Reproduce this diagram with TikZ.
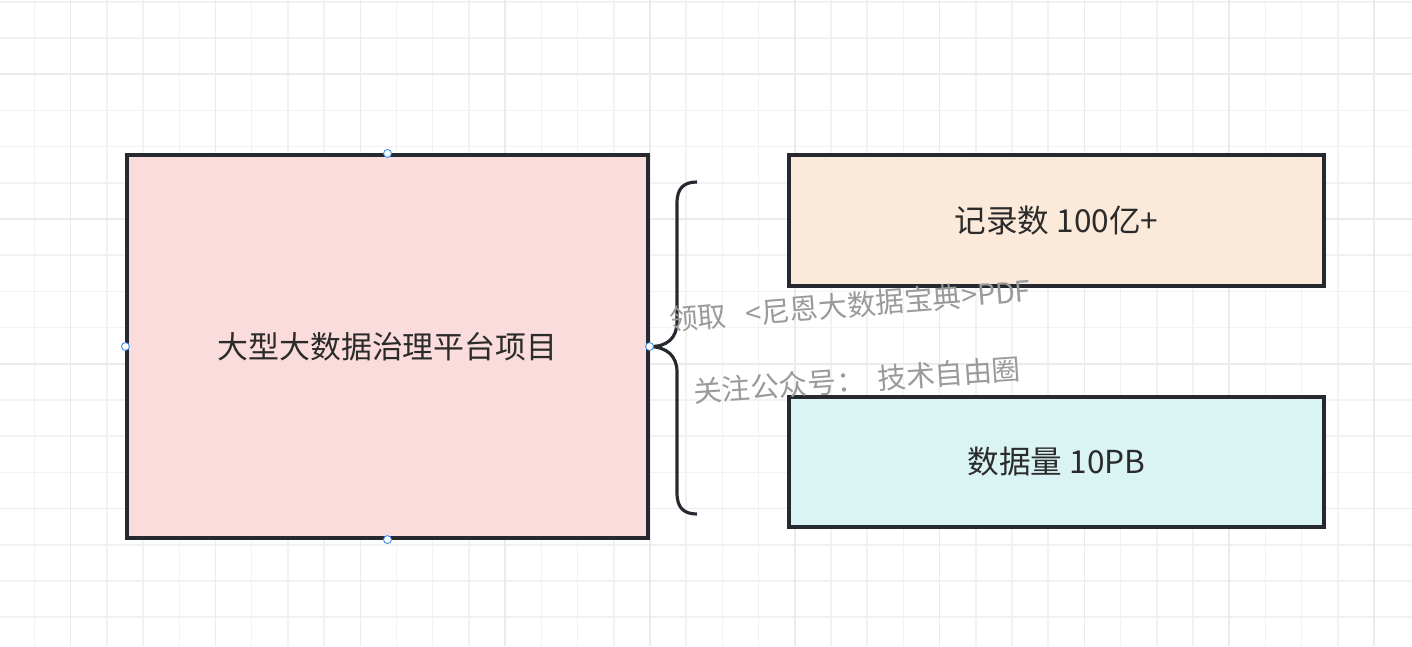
\documentclass[tikz,border=0pt]{standalone}
\usepackage{fontspec}
\setmainfont{Noto Sans CJK SC}
\usepackage{tikz}
\usetikzlibrary{positioning}

\definecolor{edgedark}{HTML}{262A30}
\definecolor{pinkfill}{HTML}{F9DCDB}
\definecolor{peachfill}{HTML}{FBE9DA}
\definecolor{cyanfill}{HTML}{DAF3F3}
\definecolor{gridminor}{HTML}{F2F2F2}
\definecolor{gridmajor}{HTML}{EBEBEB}
\definecolor{handleblue}{HTML}{3B8CF2}
\definecolor{textdark}{HTML}{2B2B2B}
\definecolor{markgray}{HTML}{9A9A9A}

\begin{document}
\begin{tikzpicture}[
    x=0.02cm, y=-0.02cm,
    block/.style={rectangle, draw=edgedark, line width=1.8pt, align=center, text=textdark, font=\fontsize{18}{21}\selectfont, inner sep=0pt},
    handle/.style={circle, draw=handleblue, fill=white, line width=0.5pt, minimum size=4.5pt, inner sep=0pt},
    watermark/.style={text=markgray, font=\fontsize{16.3}{19}\selectfont, inner sep=0pt}
]

\useasboundingbox (0,0) rectangle (1412,646);
\fill[white] (0,0) rectangle (1412,646);

% background grid
\foreach \gx in {0,...,38} {
  \pgfmathsetmacro\xx{-1.7+36.2*\gx}
  \draw[gridminor, line width=0.9pt] (\xx,0) -- (\xx,646);
}
\foreach \gy in {0,...,17} {
  \pgfmathsetmacro\yy{1.8+36.2*\gy}
  \draw[gridminor, line width=0.9pt] (0,\yy) -- (1412,\yy);
}
\foreach \gx in {0,4,...,38} {
  \pgfmathsetmacro\xx{70.7+36.2*\gx}
  \draw[gridmajor, line width=0.9pt] (\xx,0) -- (\xx,646);
}
\foreach \gy in {0,4,...,17} {
  \pgfmathsetmacro\yy{74.2+36.2*\gy}
  \draw[gridmajor, line width=0.9pt] (0,\yy) -- (1412,\yy);
}

\node[block, fill=pinkfill, minimum width=521*0.02cm, minimum height=383*0.02cm, font=\fontsize{17.6}{21}\selectfont] (project) at (387.5,346.5) {大型大数据治理平台项目};
\node[block, fill=peachfill, minimum width=535*0.02cm, minimum height=131*0.02cm] (records) at (1056.5,220.5) {记录数 100亿+};
\node[block, fill=cyanfill, minimum width=535*0.02cm, minimum height=130*0.02cm] (volume) at (1056.5,462) {数据量 10PB};

% brace
\coordinate (bracetop) at (697,182);
\coordinate (bracebot) at (697,514);
\draw[edgedark, line width=1.8pt]
  (bracetop) .. controls (684,182) and (677,188) .. (677,203) -- (677,322)
  .. controls (677,338) and (667,347) .. (project.east)
  .. controls (667,347) and (677,356) .. (677,372) -- (677,493)
  .. controls (677,508) and (684,514) .. (bracebot);

\node[handle] (hn) at (project.north) {};
\node[handle] (hw) at (project.west) {};
\node[handle] (he) at (project.east) {};
\node[handle] (hs) at (project.south) {};

\node[watermark, rotate=4.6] (wm1) at (850,305) {领取\ \ \ <尼恩大数据宝典>PDF};
\node[watermark, rotate=4.0] (wm2) at (857,380) {关注公众号：\ \ 技术自由圈};

\end{tikzpicture}
\end{document}
